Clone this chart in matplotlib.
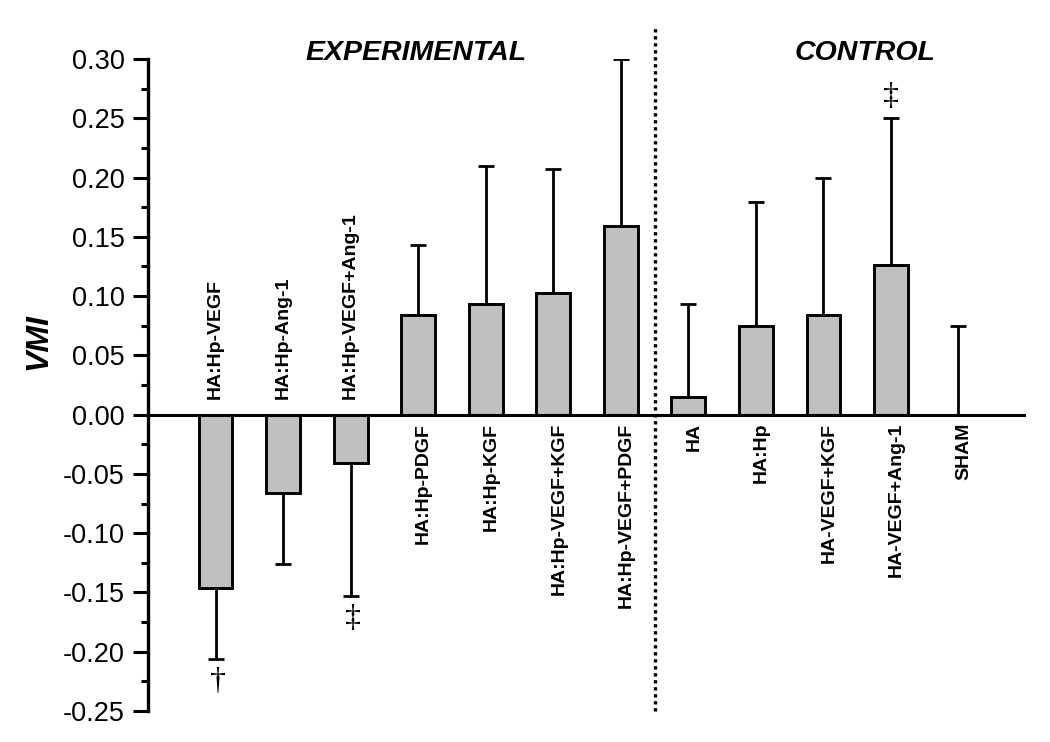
import matplotlib
matplotlib.use("Agg")
import matplotlib.pyplot as plt
from matplotlib.ticker import MultipleLocator, FormatStrFormatter

plt.rcParams['font.family'] = ['Liberation Sans', 'DejaVu Sans']

# Grupos e valores (VMI média e desvio)
grupos = ["HA:Hp-VEGF", "HA:Hp-Ang-1", "HA:Hp-VEGF+Ang-1", "HA:Hp-PDGF",
          "HA:Hp-KGF", "HA:Hp-VEGF+KGF", "HA:Hp-VEGF+PDGF",
          "HA", "HA:Hp", "HA-VEGF+KGF", "HA-VEGF+Ang-1", "SHAM"]
medias = [-0.146, -0.066, -0.041, 0.084, 0.093, 0.103, 0.159,
          0.015, 0.075, 0.084, 0.126, 0.0]
desvios = [0.060, 0.060, 0.112, 0.059, 0.117, 0.104, 0.141,
           0.078, 0.104, 0.116, 0.124, 0.075]
simbolos = ["\u2020", "", "\u2021", "", "", "", "", "", "", "", "\u2021", ""]
n_experimental = 7

x = list(range(1, len(grupos) + 1))

fig = plt.figure(figsize=(10.5, 7.42), dpi=100)
ax = fig.add_axes([148/1050, 31/742, (1026-148)/1050, (711-59)/742])

# barras de erro só para o lado de fora
err_baixo = [d if m < 0 else 0 for m, d in zip(medias, desvios)]
err_cima = [d if m >= 0 else 0 for m, d in zip(medias, desvios)]
ax.errorbar(x, medias, yerr=[err_baixo, err_cima], fmt='none', ecolor='black',
            elinewidth=2.0, capsize=5.8, capthick=2.0, zorder=1)
ax.bar(x, medias, width=0.5, color='#c0c0c0', edgecolor='black',
       linewidth=2.1, zorder=2)
ax.axhline(0, color='black', linewidth=2.2, zorder=3)

for xi, m, d, nome, s in zip(x, medias, desvios, grupos, simbolos):
    if m < 0:
        ax.annotate(nome, (xi, 0), xytext=(0, 11), textcoords='offset points',
                    rotation=90, ha='center', va='bottom', fontsize=14,
                    fontweight='bold')
        if s:
            ax.annotate(s, (xi, m - d), xytext=(2, -6), textcoords='offset points',
                        ha='center', va='top', fontsize=23,
                        family='Liberation Serif')
    else:
        ax.annotate(nome, (xi, 0), xytext=(4, -6), textcoords='offset points',
                    rotation=90, ha='center', va='top', fontsize=14,
                    fontweight='bold')
        if s:
            ax.annotate(s, (xi, m + d), xytext=(0, 5), textcoords='offset points',
                        ha='center', va='bottom', fontsize=23,
                        family='Liberation Serif')

# linha pontilhada separando os grupos
sep = n_experimental + 0.5
ax.plot([sep, sep], [-0.25, 0.326], color='black', linewidth=2.4,
        linestyle=(0, (1, 1.1)), clip_on=False, zorder=4)

ax.set_xlim(0, 13)
ax.set_ylim(-0.25, 0.30)
ax.yaxis.set_major_locator(MultipleLocator(0.05))
ax.yaxis.set_minor_locator(MultipleLocator(0.025))
ax.yaxis.set_major_formatter(FormatStrFormatter('%.2f'))
ax.tick_params(axis='y', which='major', direction='out', length=11, width=2.2,
               labelsize=19.5, pad=6)
ax.tick_params(axis='y', which='minor', direction='out', length=5, width=2.2)
ax.set_xticks([])
for lado in ['top', 'right', 'bottom']:
    ax.spines[lado].set_visible(False)
ax.spines['left'].set_linewidth(2.4)

fig.text(38/1050, 1 - 342/742, 'VMI', rotation=90, ha='center', va='center',
         fontsize=23, fontweight='bold', fontstyle='italic')
fig.text(416/1050, 1 - 53/742, 'EXPERIMENTAL', ha='center', va='center',
         fontsize=20.5, fontweight='bold', fontstyle='italic')
fig.text(865/1050, 1 - 53/742, 'CONTROL', ha='center', va='center',
         fontsize=20.5, fontweight='bold', fontstyle='italic')

fig.savefig('out.png', dpi=100)
